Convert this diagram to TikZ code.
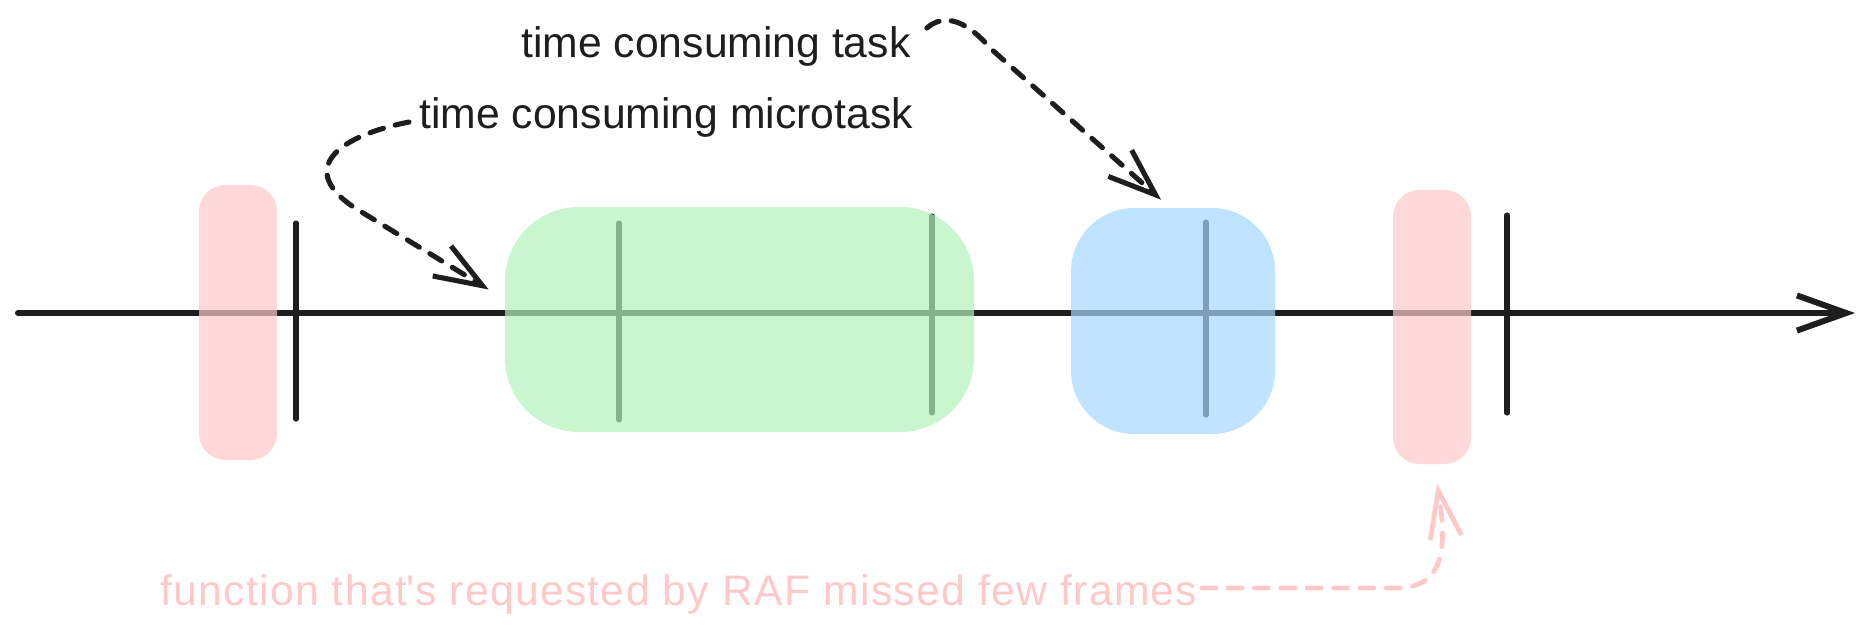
\documentclass[tikz,border=0pt]{standalone}
\usepackage{fontspec}
\setmainfont{Liberation Sans}
\usetikzlibrary{arrows.meta}
\definecolor{ink}{HTML}{1E1E1E}
\definecolor{rafpink}{HTML}{FFC9C9}
\definecolor{mgreen}{HTML}{B2F2BB}
\definecolor{tblue}{HTML}{A5D8FF}

\begin{document}
\begin{tikzpicture}[x=0.02cm, y=-0.02cm,
  axisline/.style={draw=ink, line width=3.4pt, line cap=round, -{Straight Barb[length=28pt,width=20pt]}},
  frametick/.style={draw=ink, line width=2.9pt, line cap=round},
  raf/.style={rectangle, rounded corners=15, fill=rafpink, fill opacity=0.7, inner sep=0pt, minimum width=78*0.02cm},
  mtask/.style={rectangle, rounded corners=42, fill=mgreen, fill opacity=0.7, inner sep=0pt},
  ltask/.style={rectangle, rounded corners=36, fill=tblue, fill opacity=0.7, inner sep=0pt},
  lbl/.style={anchor=base west, inner sep=0pt, text=ink, font=\fontsize{24.3}{29}\selectfont},
  darr/.style={draw=ink, line width=2.9pt, line cap=round, dash pattern=on 8pt off 7pt, -{Straight Barb[length=27pt,width=20pt]}},
  parr/.style={draw=rafpink, line width=2.7pt, line cap=round, dash pattern=on 8pt off 7pt, -{Straight Barb[length=27pt,width=18pt]}}]
\useasboundingbox (0,0) rectangle (1875,640);

\coordinate (start) at (18,313);
\coordinate (end) at (1855,313);
\draw[axisline] (start) -- (end);
\foreach \x/\a/\b in {296/223/419, 619/223/420, 932/216/413, 1206/222/415, 1507/215/413}
  \draw[frametick] (\x,\a) -- (\x,\b);

\node[raf, minimum height=275*0.02cm] (raf1) at (238,322.5) {};
\node[raf, minimum height=274*0.02cm] (raf2) at (1432,327) {};
\node[mtask, minimum width=469*0.02cm, minimum height=225*0.02cm] (micro) at (739.5,319.5) {};
\node[ltask, minimum width=204*0.02cm, minimum height=226*0.02cm] (task) at (1173,321) {};

\node[lbl] (tasktxt) at (521,57) {time consuming task};
\node[lbl] (microtxt) at (419,128) {time consuming microtask};
\node[lbl, text=rafpink] (raftxt) at (160,605) {\addfontfeatures{LetterSpace=3}function that\textquotesingle s requested by RAF missed few frames};

\draw[darr] ([shift={(-10,-6)}]microtxt.base west) .. controls (330,138) and (300,172) .. (355,208) -- ([shift={(-16,-30)}]micro.west);
\draw[darr] ([shift={(16,-29)}]tasktxt.base east) .. controls (945,12) and (968,22) .. (990,48) -- ([shift={(-12,-8)}]task.north);
\draw[parr] ([shift={(4,-17)}]raftxt.base east) -- (1400,588) .. controls (1445,586) and (1447,545) .. ([shift={(5,19)}]raf2.south);
\end{tikzpicture}
\end{document}
